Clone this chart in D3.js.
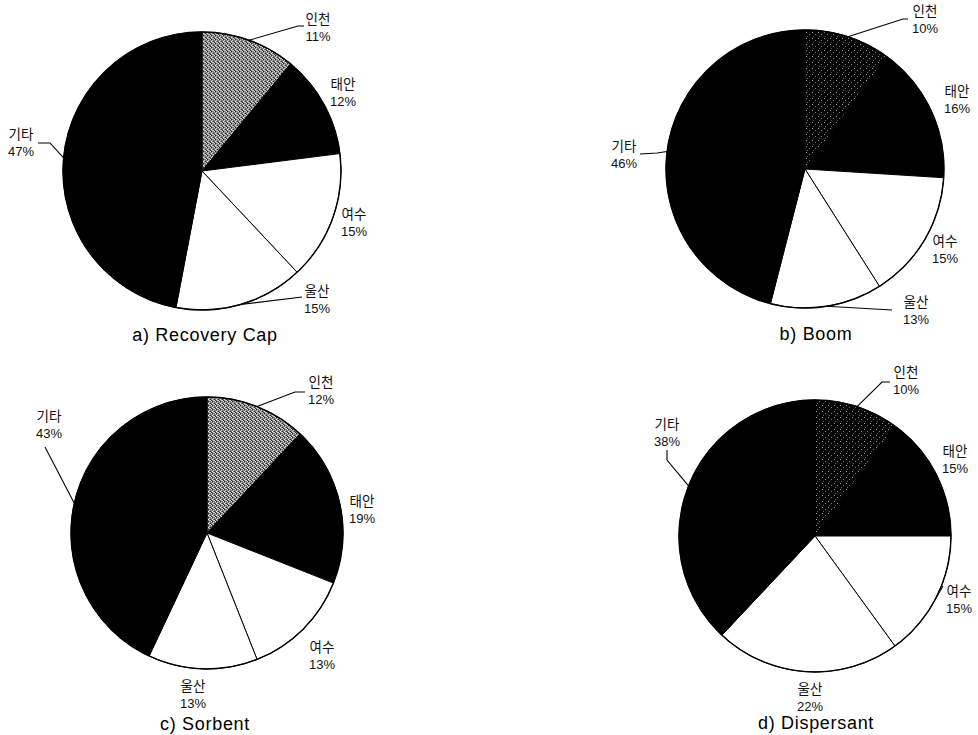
<!DOCTYPE html>
<html>
<head>
<meta charset="utf-8">
<script src="https://cdn.jsdelivr.net/npm/d3@7"></script>
<style>
  html, body { margin: 0; padding: 0; background: #fff; }
  svg { display: block; }
  .lbl { font-family: "Noto Sans CJK KR", "DejaVu Sans", sans-serif; font-size: 13.5px; fill: #111; }
  .pct { font-family: "Liberation Sans", Arial, sans-serif; font-size: 13px; fill: #111; }
  .ttl { font-family: "Liberation Sans", Arial, sans-serif; font-size: 18px; letter-spacing: 0.7px; fill: #000; }
</style>
</head>
<body>
<svg id="chart" width="978" height="735"></svg>
<script>
// Share of response equipment by region (%)
const regions = ["인천", "태안", "여수", "울산", "기타"];
const recoveryCap = [11, 12, 15, 15, 47];
const boom = [10, 16, 15, 13, 46];
const sorbent = [12, 19, 13, 13, 43];
const dispersant = [10, 15, 15, 22, 38];
const titles = ["a) Recovery Cap", "b) Boom", "c) Sorbent", "d) Dispersant"];
const seriesList = [recoveryCap, boom, sorbent, dispersant];

// Panel layout: pie centre/radius, title anchor, label anchors and leader bends
const panels = [
  { cx: 202, cy: 171, r: 139, fill: "url(#dotLight)", tx: 205, ty: 341,
    labels: [
      { x: 318, y: 24, leader: [[298, 26], [304, 26]] },
      { x: 343, y: 89 },
      { x: 354, y: 219 },
      { x: 317, y: 296, leader: [[302, 297]] },
      { x: 21, y: 139, leader: [[50, 143], [38, 143]] }
    ] },
  { cx: 805, cy: 169, r: 139, fill: "url(#dotDark)", tx: 816, ty: 340,
    labels: [
      { x: 925, y: 16, leader: [[903, 19], [908, 19]] },
      { x: 957, y: 96 },
      { x: 945, y: 246 },
      { x: 916, y: 307, leader: [[892, 310]] },
      { x: 624, y: 151, leader: [[657, 153], [640, 154]] }
    ] },
  { cx: 207, cy: 533, r: 136, fill: "url(#dotLight)", tx: 205, ty: 730,
    labels: [
      { x: 321, y: 387, leader: [[295, 392], [305, 392]] },
      { x: 362, y: 506 },
      { x: 322, y: 652 },
      { x: 193, y: 691 },
      { x: 49, y: 421, leader: [[45, 447]] }
    ] },
  { cx: 815, cy: 536, r: 136, fill: "url(#dotDark)", tx: 816, ty: 729,
    labels: [
      { x: 906, y: 377, leader: [[882, 382], [890, 382]] },
      { x: 955, y: 456 },
      { x: 959, y: 596, leader: [[943, 586]] },
      { x: 810, y: 694 },
      { x: 667, y: 429, leader: [[667, 460], [667, 450]] }
    ] }
];

const svg = d3.select("#chart");
const defs = svg.append("defs");

// Stippled grey fill
const light = defs.append("pattern").attr("id", "dotLight")
  .attr("patternUnits", "userSpaceOnUse").attr("width", 4).attr("height", 4);
light.append("rect").attr("width", 4).attr("height", 4).attr("fill", "#7e7e7e");
[[0, 0, "#d8d8d8"], [2, 1, "#c4c4c4"], [1, 2, "#e2e2e2"], [3, 3, "#cfcfcf"], [2, 3, "#bdbdbd"],
 [1, 0, "#222"], [3, 2, "#2a2a2a"], [0, 3, "#333"]].forEach(([x, y, c]) =>
  light.append("rect").attr("x", x).attr("y", y).attr("width", 1).attr("height", 1).attr("fill", c));

// Dark fill with sparse grey dots
const dark = defs.append("pattern").attr("id", "dotDark")
  .attr("patternUnits", "userSpaceOnUse").attr("width", 6).attr("height", 6);
dark.append("rect").attr("width", 6).attr("height", 6).attr("fill", "#050505");
[[1, 1, "#9a9a9a"], [4, 3, "#7a7a7a"], [2, 5, "#5a5a5a"]].forEach(([x, y, c]) =>
  dark.append("rect").attr("x", x).attr("y", y).attr("width", 1).attr("height", 1).attr("fill", c));

const solidFills = [null, "#000", "#fff", "#fff", "#000"];
const pie = d3.pie().sort(null).value(d => d);

panels.forEach((p, i) => {
  const values = seriesList[i];
  const arcs = pie(values);
  const arc = d3.arc().innerRadius(0).outerRadius(p.r);
  const g = svg.append("g").attr("transform", `translate(${p.cx},${p.cy})`);

  g.selectAll("path.slice").data(arcs).join("path")
    .attr("class", "slice")
    .attr("d", arc)
    .attr("fill", (d, k) => k === 0 ? p.fill : solidFills[k])
    .attr("stroke", "#000").attr("stroke-width", 1)
    .attr("stroke-linejoin", "round");

  g.append("circle").attr("r", p.r).attr("fill", "none")
    .attr("stroke", "#000").attr("stroke-width", 1.4);

  // leader lines start on the rim at each slice's mid angle
  arcs.forEach((a, k) => {
    const lab = p.labels[k];
    if (lab.leader) {
      const mid = (a.startAngle + a.endAngle) / 2;
      const start = [p.cx + p.r * Math.sin(mid), p.cy - p.r * Math.cos(mid)];
      svg.append("path")
        .attr("d", d3.line()([start, ...lab.leader]))
        .attr("fill", "none").attr("stroke", "#000").attr("stroke-width", 1.1);
    }
    svg.append("text").attr("class", "lbl").attr("text-anchor", "middle")
      .attr("x", lab.x).attr("y", lab.y).text(regions[k]);
    svg.append("text").attr("class", "pct").attr("text-anchor", "middle")
      .attr("x", lab.x).attr("y", lab.y + 17).text(values[k] + "%");
  });

  svg.append("text").attr("class", "ttl").attr("text-anchor", "middle")
    .attr("x", p.tx).attr("y", p.ty).text(titles[i]);
});
</script>
</body>
</html>
